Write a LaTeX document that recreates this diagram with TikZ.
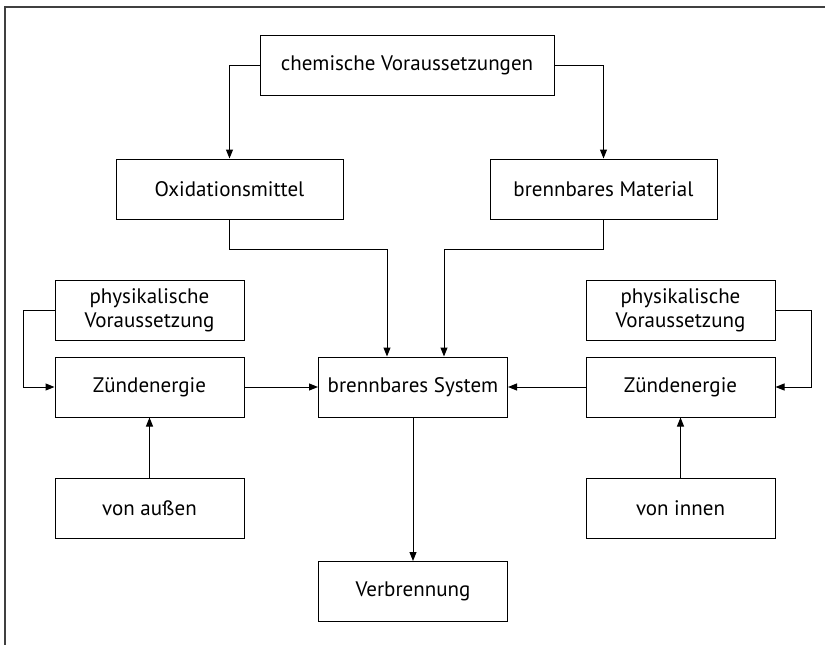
\documentclass[tikz,border=0pt]{standalone}
\usepackage{fontspec}
\setmainfont{PT Sans}
\usepackage{tikz}
\usetikzlibrary{arrows.meta}

\begin{document}
\begin{tikzpicture}[x=1pt,y=-1pt,
    box/.style={draw,line width=1pt,minimum height=60pt,minimum width=189pt,
      inner sep=0pt,align=center,font=\fontsize{21}{24}\selectfont},
    widebox/.style={box,minimum width=227pt},
    arr/.style={line width=1pt,-{Triangle[length=9pt,width=7pt]}}]
  \useasboundingbox (0,0) rectangle (825,645);
  % frame
  \draw[line width=2pt,black!75] (4.5,645)--(4.5,6.5)--(825,6.5);
  % chemical side
  \node[box,minimum width=294pt] (chem) at(407,65){chemische Voraussetzungen};
  \node[widebox] (oxi) at(229.5,189){Oxidationsmittel};
  \node[widebox] (mat) at(603.5,189){brennbares Material};
  % centre
  \node[box] (sys) at(413,387){brennbares System};
  \node[box] (verb) at(413,591.5){Verbrennung};
  % left: ignition from outside
  \node[box] (physL) at(149.5,310.5){physikalische\\Voraussetzung};
  \node[box] (zuendL) at(149.5,387){Zündenergie};
  \node[box] (aussen) at(149.5,508){von außen};
  % right: ignition from inside
  \node[box] (physR) at(680.5,310.5){physikalische\\Voraussetzung};
  \node[box] (zuendR) at(680.5,387){Zündenergie};
  \node[box] (innen) at(680.5,508){von innen};
  % bends
  \coordinate (jO) at(387,249);
  \coordinate (jM) at(444,249);
  \coordinate (kL) at(23,387);
  \coordinate (kR) at(811,387);
  % connectors
  \draw[arr] (chem.west) -| (oxi.north);
  \draw[arr] (chem.east) -| (mat.north);
  \draw[arr] (oxi.south) |- (jO) -- (jO |- sys.north);
  \draw[arr] (mat.south) |- (jM) -- (jM |- sys.north);
  \draw[arr] (physL.west) -| (kL) -- (zuendL.west);
  \draw[arr] (physR.east) -| (kR) -- (zuendR.east);
  \draw[arr] (zuendL.east) -- (sys.west);
  \draw[arr] (zuendR.west) -- (sys.east);
  \draw[arr] (aussen.north) -- (zuendL.south);
  \draw[arr] (innen.north) -- (zuendR.south);
  \draw[arr] (sys.south) -- (verb.north);
\end{tikzpicture}
\end{document}
